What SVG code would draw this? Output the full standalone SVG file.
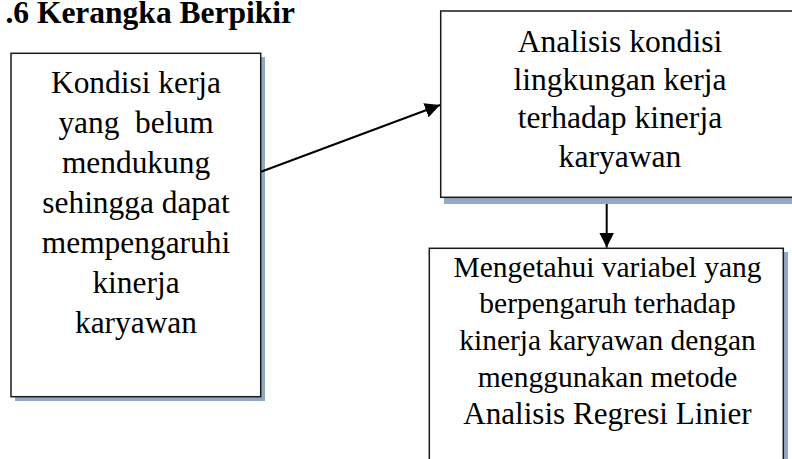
<svg xmlns="http://www.w3.org/2000/svg" width="792" height="459" viewBox="0 0 792 459">
<defs>
<marker id="ah" viewBox="0 0 10 10" refX="10" refY="5" markerWidth="15" markerHeight="15" markerUnits="userSpaceOnUse" orient="auto">
<path d="M0,0 L10,5 L0,10 Z" fill="#000"/>
</marker>
</defs>
<style>
.shadow{fill:#93A8C3}
.box{fill:#fff;stroke:#1a1a1a;stroke-width:1.5}
.conn{stroke:#000;stroke-width:2;fill:none}
</style>
<rect width="792" height="459" fill="#fff"/>
<text x="295" y="23" font-family="'Liberation Serif', serif" font-weight="bold" font-size="31.5" text-anchor="end">.6 Kerangka Berpikir</text>
<g id="node-kondisi">
<rect class="shadow" x="15" y="57" width="250" height="344"/>
<rect class="box" x="11" y="53.3" width="249.7" height="343.4"/>
<g font-family="'Liberation Serif', serif" font-size="31.4" text-anchor="middle" fill="#000">
<text x="136" y="93.3">Kondisi kerja</text>
<text x="136" y="133.2" xml:space="preserve">yang  belum</text>
<text x="136" y="173.1">mendukung</text>
<text x="136" y="213">sehingga dapat</text>
<text x="136" y="252.9">mempengaruhi</text>
<text x="136" y="292.8">kinerja</text>
<text x="136" y="332.7">karyawan</text>
</g>
</g>
<g id="node-analisis">
<rect class="shadow" x="444" y="15" width="360" height="189"/>
<rect class="box" x="440.7" y="11" width="360" height="186.3"/>
<g font-family="'Liberation Serif', serif" font-size="31.6" text-anchor="middle" fill="#000">
<text x="620" y="51.7">Analisis kondisi</text>
<text x="620" y="90">lingkungan kerja</text>
<text x="620" y="128.3">terhadap kinerja</text>
<text x="620" y="166.6">karyawan</text>
</g>
</g>
<g id="node-mengetahui">
<rect class="shadow" x="433" y="252" width="355" height="220"/>
<rect class="box" x="429.3" y="248.3" width="354" height="220"/>
<g font-family="'Liberation Serif', serif" font-size="29.5" text-anchor="middle" fill="#000">
<text x="607.5" y="276.7">Mengetahui variabel yang</text>
<text x="607.5" y="313.4">berpengaruh terhadap</text>
<text x="607.5" y="350.1">kinerja karyawan dengan</text>
<text x="607.5" y="386.8">menggunakan metode</text>
<text x="607.5" y="423.5" font-size="31.1">Analisis Regresi Linier</text>
</g>
</g>
<g id="connectors">
<line class="conn" x1="261" y1="171.7" x2="440" y2="105" marker-end="url(#ah)"/>
<line class="conn" x1="606.7" y1="204" x2="606.7" y2="247.5" marker-end="url(#ah)"/>
</g>
</svg>
